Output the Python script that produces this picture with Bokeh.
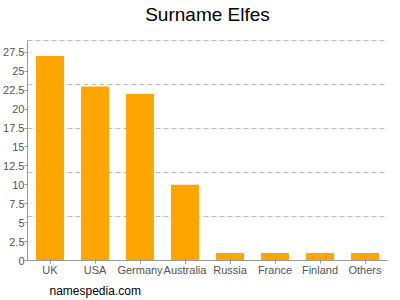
from bokeh.plotting import figure
from bokeh.models import FixedTicker, CustomJSTickFormatter, Title, Range1d, Label
from bokeh.embed import file_html
from bokeh.resources import INLINE

countries = ["UK", "USA", "Germany", "Australia", "Russia", "France", "Finland", "Others"]
counts = [27, 23, 22, 10, 1, 1, 1, 1]
y_ticks = [0, 2.5, 5, 7.5, 10, 12.5, 15, 17.5, 20, 22.5, 25, 27.5]
y_top = 29.08
grid_lines = [y_top * k / 5 for k in range(1, 6)]

# frame spans the full height above the x axis; the value axis stops at y_top
frame_h = 261
axis_h = 221
y_end = y_top * frame_h / axis_h

p = figure(x_range=countries, y_range=Range1d(0, y_end), width=400, height=300,
           output_backend="svg", toolbar_location=None,
           min_border_left=27, min_border_right=13, min_border_top=0, min_border_bottom=0)

title = Label(text="Surname Elfes", x=180, y=frame_h - 15, x_units="screen", y_units="screen",
              text_align="center", text_baseline="middle", text_font="Liberation Sans",
              text_font_size="19px", text_color="#000000")
p.add_layout(title)

p.vbar(x=countries, top=counts, width=0.62, color="#FFA500", line_color=None)

p.x_range.range_padding = 0
p.outline_line_color = None
p.background_fill_color = "white"

p.xgrid.grid_line_color = None
p.ygrid.ticker = FixedTicker(ticks=grid_lines)
p.ygrid.grid_line_color = "#bbbbbb"
p.ygrid.grid_line_dash = "5 3"
p.ygrid.grid_line_width = 1

p.yaxis.ticker = FixedTicker(ticks=y_ticks)
p.yaxis.bounds = (0, y_top)
p.yaxis.formatter = CustomJSTickFormatter(code="return tick.toString();")
for ax in (p.xaxis[0], p.yaxis[0]):
    ax.axis_line_color = "#999999"
    ax.major_tick_line_color = "#999999"
    ax.minor_tick_line_color = None
    ax.major_label_text_color = "#555555"
    ax.major_label_text_font = "Liberation Sans"
    ax.major_label_text_font_size = "11px"
    ax.major_tick_in = 0
    ax.major_tick_out = 3
    ax.major_label_standoff = 0
p.xaxis.major_tick_out = 3
p.xaxis.major_tick_in = 2

foot = Title(text="namespedia.com", align="left", text_font="Liberation Sans",
             text_font_size="12px", text_font_style="normal", text_color="#000000",
             offset=22, standoff=6)
p.add_layout(foot, "below")

open("out.html", "w").write(file_html(p, INLINE))
